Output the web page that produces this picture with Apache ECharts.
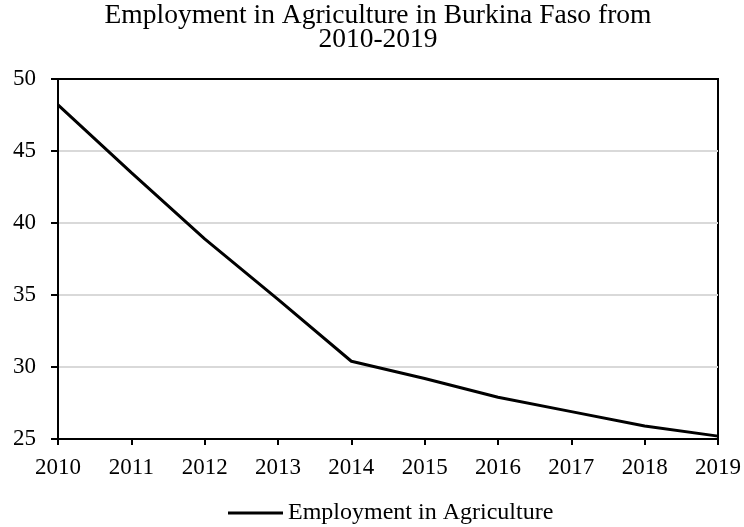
<!DOCTYPE html>
<html>
<head>
<meta charset="utf-8">
<script src="https://cdn.jsdelivr.net/npm/echarts@6/dist/echarts.min.js"></script>
<style>
  html, body { margin: 0; padding: 0; background: #fff; }
  #main { width: 744px; height: 527px; }
</style>
</head>
<body>
<div id="main"></div>
<script>
// data
var years = ['2010', '2011', '2012', '2013', '2014', '2015', '2016', '2017', '2018', '2019'];
var employment = [48.2, 43.5, 38.9, 34.7, 30.4, 29.2, 27.9, 26.9, 25.9, 25.2];
var seriesName = 'Employment in Agriculture';
var titleText = 'Employment in Agriculture in Burkina Faso from\n2010-2019';

var myChart = echarts.init(document.getElementById('main'));
var serif = '"Liberation Serif", "Times New Roman", serif';

var option = {
    backgroundColor: '#fff',
    animation: false,
    title: {
        text: titleText,
        left: 378,
        top: 0,
        textAlign: 'center',
        padding: [4, 0, 0, 0],
        textStyle: {
            fontFamily: serif,
            fontWeight: 'normal',
            fontSize: 27.5,
            color: '#000',
            lineHeight: 24
        }
    },
    legend: {
        top: 501,
        left: 228,
        icon: 'rect',
        itemWidth: 55,
        itemHeight: 3,
        padding: 0,
        textStyle: { fontFamily: serif, fontSize: 24, color: '#000' },
        data: [seriesName]
    },
    grid: {
        left: 58,
        right: 26,
        top: 79,
        bottom: 88,
        show: true,
        borderColor: '#000',
        borderWidth: 2
    },
    xAxis: {
        type: 'category',
        data: years,
        boundaryGap: false,
        axisLine: { lineStyle: { color: '#000', width: 2 } },
        axisTick: { show: true, inside: false, length: 6, lineStyle: { color: '#000', width: 2 } },
        axisLabel: { fontFamily: serif, fontSize: 23, color: '#000', margin: 17 },
        splitLine: { show: false }
    },
    yAxis: {
        type: 'value',
        min: 25,
        max: 50,
        interval: 5,
        axisLine: { show: true, lineStyle: { color: '#000', width: 2 } },
        axisTick: { show: true, inside: false, length: 7, lineStyle: { color: '#000', width: 2 } },
        axisLabel: { fontFamily: serif, fontSize: 23, color: '#000', margin: 22 },
        splitLine: {
            show: true,
            showMinLine: false,
            showMaxLine: false,
            lineStyle: { color: '#d9d9d9', width: 2 }
        }
    },
    series: [
        {
            name: seriesName,
            type: 'line',
            data: employment,
            symbol: 'none',
            lineStyle: { color: '#000', width: 3 },
            itemStyle: { color: '#000' }
        }
    ]
};
myChart.setOption(option);
</script>
</body>
</html>
